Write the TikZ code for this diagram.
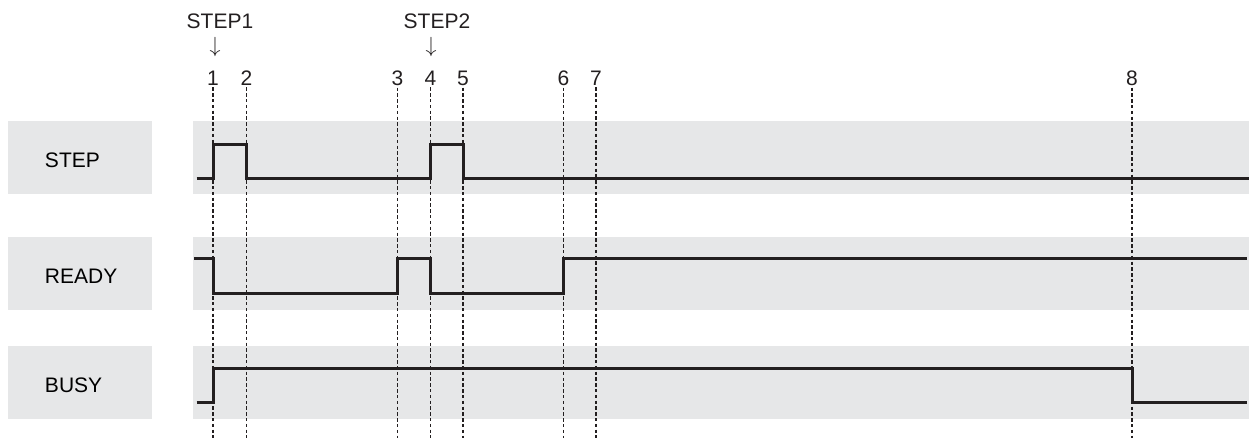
\documentclass[tikz,border=0pt]{standalone}
\usepackage{fontspec}
\setmainfont{Liberation Sans}
\usetikzlibrary{positioning, calc}
\definecolor{bandgray}{HTML}{E6E7E8}
\definecolor{sigblack}{HTML}{231F20}

\begin{document}
\begin{tikzpicture}[
  x=0.5pt, y=-0.5pt,
  font=\fontsize{10.5}{12}\selectfont,
  lbl/.style={rectangle, fill=bandgray, minimum width=72pt, minimum height=36.5pt,
              inner xsep=18.5pt, text width=35pt, align=left,
              text height=10pt, text depth=0pt},
  band/.style={fill=bandgray},
  num/.style={anchor=base, inner sep=0pt, text=sigblack},
  txt/.style={inner sep=0pt, text=sigblack},
  vline/.style={draw=sigblack, line width=0.7pt, dash pattern=on 1.7pt off 1.2pt},
  sig/.style={draw=sigblack, line width=1.5pt}
]
  \useasboundingbox (0,0) rectangle (1249,441);

  % signal names and bands
  \node[lbl] (lstep)  at (80,157.5) {STEP};
  \node[lbl] (lready) at (80,273.5) {READY};
  \node[lbl] (lbusy)  at (80,382.5) {BUSY};
  \fill[band] (193,121) rectangle (1249,194);
  \fill[band] (193,237) rectangle (1249,310);
  \fill[band] (193,346) rectangle (1249,419);

  % time marks
  \foreach \i/\x in {1/213,2/246.5,3/397.5,4/430.5,5/463,6/563.5,7/596,8/1132} {
    \node[num] (n\i) at (\x,85) {\i};
    \coordinate (b\i) at (\x,438);
    \draw[vline] ([yshift=-1pt]n\i.south) -- (b\i);
  }

  % commands
  \node[txt] (s1) at (220,21) {STEP1};
  \node[txt] (a1) at (215,47) {$\downarrow$};
  \node[txt] (s2) at (437,21) {STEP2};
  \node[txt] (a2) at (431,47) {$\downarrow$};

  % waveforms
  \draw[sig] (196.5,178) -- (213,178) -- (213,144) -- (246.5,144) -- (246.5,178)
    -- (430.5,178) -- (430.5,144) -- (463,144) -- (463,178) -- (1249,178);
  \draw[sig] (194,258) -- (213,258) -- (213,293) -- (397.5,293) -- (397.5,258)
    -- (430.5,258) -- (430.5,293) -- (563.5,293) -- (563.5,258) -- (1247,258);
  \draw[sig] (196.5,402) -- (213,402) -- (213,368) -- (1132,368) -- (1132,402)
    -- (1247,402);
\end{tikzpicture}
\end{document}
